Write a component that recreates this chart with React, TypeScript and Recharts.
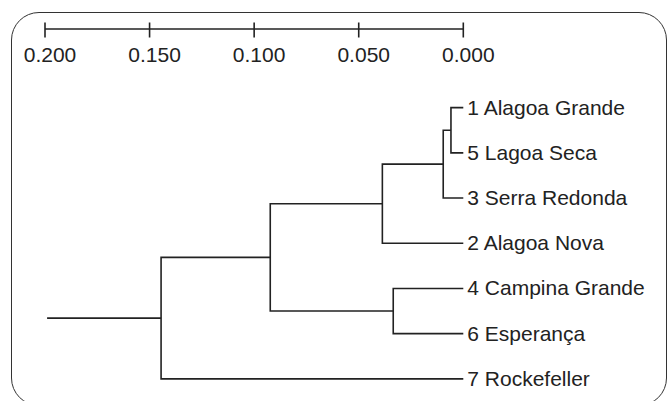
import React from "react";
import { ComposedChart, Line, Scatter, XAxis, YAxis } from "recharts";

// Leaves in display order (top to bottom)
const leafLabels = [
  "1 Alagoa Grande",
  "5 Lagoa Seca",
  "3 Serra Redonda",
  "2 Alagoa Nova",
  "4 Campina Grande",
  "6 Esperança",
  "7 Rockefeller",
];

// Linkage: node ids 0..6 are leaves, merge k creates node 7+k
const mergeLeft = [0, 7, 8, 4, 9, 11];
const mergeRight = [1, 2, 3, 5, 10, 6];
const mergeHeight = [0.0059, 0.0096, 0.0387, 0.0335, 0.0923, 0.1445];
const rootStemStart = 0.199;

const scaleTicks = [0.2, 0.15, 0.1, 0.05, 0];
const scaleTickLabels = ["0.200", "0.150", "0.100", "0.050", "0.000"];

const FONT = '"Liberation Sans", Arial, Helvetica, sans-serif';
const INK = "#222";

type Node = { h: number; y: number };
const nodes: Node[] = leafLabels.map((_, i) => ({ h: 0, y: i }));
mergeHeight.forEach((h, k) => {
  const l = nodes[mergeLeft[k]];
  const r = nodes[mergeRight[k]];
  nodes.push({ h, y: (l.y + r.y) / 2 });
});
const segments = mergeHeight.map((h, k) => {
  const l = nodes[mergeLeft[k]];
  const r = nodes[mergeRight[k]];
  return [
    { x: l.h, y: l.y },
    { x: h, y: l.y },
    { x: h, y: r.y },
    { x: r.h, y: r.y },
  ];
});
const root = nodes[nodes.length - 1];
const rootStem = [
  { x: rootStemStart, y: root.y },
  { x: root.h, y: root.y },
];
const leafPoints = leafLabels.map((label, i) => ({ x: 0, y: i, label }));

const ScaleTick = (props: any) => {
  const { x, y, index } = props;
  return (
    <g>
      <line x1={x} x2={x} y1={y - 6.5} y2={y + 8.5} stroke={INK} strokeWidth={1.6} />
      <text
        x={x + 5}
        y={y + 33.3}
        textAnchor="middle"
        fontSize={21}
        fontFamily={FONT}
        fill={INK}
      >
        {scaleTickLabels[index]}
      </text>
    </g>
  );
};

const LeafLabel = (props: any) => {
  const { cx, cy, payload } = props;
  return (
    <text x={cx + 4} y={cy + 7} fontSize={21} fontFamily={FONT} fill={INK}>
      {payload.label}
    </text>
  );
};

export default function App() {
  return (
    <div style={{ position: "absolute", left: 0, top: 0, width: 668, height: 401, background: "#fff", overflow: "hidden" }}>
      <div
        style={{
          position: "absolute",
          left: 11,
          top: 12,
          width: 656,
          height: 394,
          boxSizing: "border-box",
          border: "1.3px solid #333",
          borderRadius: 28,
        }}
      />
      <div style={{ position: "absolute", left: 0, top: 0 }}>
        <ComposedChart
          width={668}
          height={401}
          margin={{ top: 9, right: 204.7, bottom: 0, left: 45 }}
        >
          <XAxis
            type="number"
            dataKey="x"
            domain={[0, 0.2]}
            reversed
            orientation="top"
            ticks={scaleTicks}
            interval={0}
            tick={<ScaleTick />}
            tickLine={false}
            tickSize={0}
            tickMargin={0}
            axisLine={{ stroke: INK, strokeWidth: 1.6 }}
            height={20}
          />
          <YAxis
            type="number"
            dataKey="y"
            domain={[-1.74, 6.49]}
            reversed
            hide
          />
          {segments.map((seg, i) => (
            <Line
              key={i}
              data={seg}
              dataKey="y"
              type="linear"
              stroke={INK}
              strokeWidth={1.6}
              dot={false}
              activeDot={false}
              isAnimationActive={false}
            />
          ))}
          <Line
            data={rootStem}
            dataKey="y"
            type="linear"
            stroke={INK}
            strokeWidth={1.6}
            dot={false}
            activeDot={false}
            isAnimationActive={false}
          />
          <Scatter
            data={leafPoints}
            dataKey="y"
            shape={<LeafLabel />}
            isAnimationActive={false}
          />
        </ComposedChart>
      </div>
    </div>
  );
}
